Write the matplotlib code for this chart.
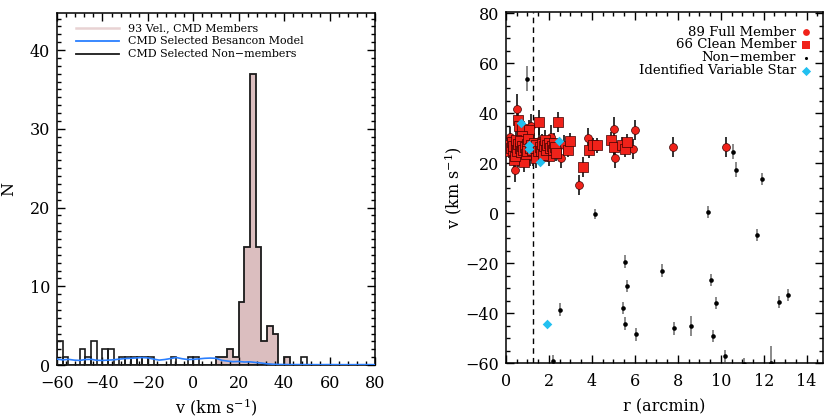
import matplotlib
matplotlib.use("Agg")
import matplotlib.pyplot as plt
from matplotlib.ticker import MultipleLocator
from matplotlib.lines import Line2D
import numpy as np

plt.rcParams['font.family'] = ['DejaVu Serif']
plt.rcParams['mathtext.fontset'] = 'dejavuserif'

# ---------------- Left panel data ----------------
bin_width = 2.5
hist_start = -60.0
nonmem_counts = [3, 1, 0, 0, 2, 1, 3, 0, 2, 2, 0, 1, 1, 1, 1, 1, 1, 0, 0, 0,
                 1, 0, 0, 1, 1, 0, 0, 0, 0, 0, 0, 0, 0, 0, 0, 0, 0, 0, 0, 0,
                 0, 0, 0, 1]
mem_start = 10.0
mem_counts = [1, 1, 2, 1, 8, 15, 37, 15, 3, 5, 4, 0, 1]

besancon_v = [-60, -57.5, -55, -52.5, -50, -47.5, -45, -42.5, -40, -37.5, -35, -32.5,
              -30, -27.5, -25, -22.5, -20, -17.5, -15, -12.5, -10, -7.5, -5, -2.5,
              0, 2.5, 5, 7.5, 10, 12.5, 15, 17.5, 20, 22.5, 25, 27.5, 30, 32.5, 35,
              37.5, 40, 45, 50, 55, 60, 65, 70, 75, 80]
besancon_n = [0.75, 0.65, 0.72, 0.62, 0.58, 0.70, 0.72, 0.60, 0.58, 0.62, 0.66, 0.75,
              0.82, 0.85, 0.90, 0.95, 0.90, 0.75, 0.62, 0.70, 0.82, 0.95, 0.80, 0.70,
              0.72, 0.78, 0.85, 0.88, 0.85, 0.60, 0.50, 0.42, 0.45, 0.38, 0.40, 0.32,
              0.25, 0.15, 0.10, 0.07, 0.06, 0.05, 0.05, 0.04, 0.05, 0.04, 0.04, 0.05, 0.04]

left_labels = ["93 Vel., CMD Members", "CMD Selected Besancon Model", "CMD Selected Non\u2212members"]

# ---------------- Right panel data ----------------
mem_r = [0.50, 0.54, 0.62, 0.76, 1.16, 1.06, 1.54, 0.19, 0.73, 0.37, 0.42, 0.85, 1.27,
         2.02, 2.41, 2.58, 2.70, 2.89, 2.99, 3.41, 3.60, 3.82, 3.88, 4.06, 4.25, 4.87,
         5.01, 5.01, 5.04, 5.07, 5.42, 5.54, 5.65, 5.90, 6.01, 7.79, 10.24,
         0.08, 0.12, 0.15, 0.22, 0.25, 0.28, 0.31, 0.34, 0.40, 0.45, 0.48, 0.52, 0.55,
         0.58, 0.63, 0.66, 0.70, 0.74, 0.78, 0.82, 0.88, 0.92, 0.96, 1.00, 1.04, 1.10,
         1.14, 1.18, 1.22, 1.30, 1.34, 1.38, 1.42, 1.47, 1.52, 1.57, 1.62, 1.66, 1.72,
         1.76, 1.80, 1.85, 1.90, 1.95, 2.00, 2.06, 2.10, 2.15, 2.20, 2.25, 2.30, 2.35]
mem_v = [41.8, 37.2, 34.8, 33.7, 34.8, 33.5, 36.4, 30.5, 30.8, 21.4, 17.4, 20.7, 24.1,
         23.0, 36.7, 22.2, 27.2, 25.4, 29.0, 11.2, 18.5, 30.0, 25.2, 27.3, 27.3, 29.4,
         33.7, 27.3, 26.5, 22.1, 27.4, 25.7, 28.6, 25.8, 33.2, 26.6, 26.6,
         26.5, 25.0, 27.5, 26.0, 24.0, 28.5, 25.5, 27.0, 23.0, 26.5, 29.5, 25.0, 27.8,
         22.5, 26.0, 28.8, 24.5, 27.0, 25.5, 29.0, 26.5, 23.8, 27.8, 25.0, 29.8, 26.2,
         23.0, 27.5, 25.2, 28.0, 26.0, 22.0, 27.2, 24.8, 29.0, 26.5, 25.0, 27.8, 23.5,
         26.8, 29.5, 25.5, 27.5, 24.5, 28.2, 26.0, 30.5, 27.0, 25.2, 28.0, 26.5, 24.0]
mem_err = [6, 4, 4, 4, 5, 4, 5, 4, 3, 4, 5, 4, 5,
           4, 4, 4, 4, 3, 3, 4, 4, 4, 3, 3, 3, 3,
           5, 4, 3, 4, 3, 3, 3, 4, 4, 4, 4,
           3, 3, 4, 3, 4, 3, 3, 4, 3, 3, 4, 3, 3,
           4, 3, 3, 3, 4, 3, 5, 3, 4, 3, 3, 4, 3,
           4, 3, 3, 4, 3, 4, 3, 3, 5, 3, 3, 4, 3,
           3, 4, 3, 3, 4, 3, 3, 5, 3, 3, 4, 3, 3]
mem_clean = [0, 1, 1, 1, 0, 1, 1, 0, 1, 1, 0, 1, 0,
             1, 1, 0, 0, 1, 1, 0, 1, 0, 1, 1, 1, 1,
             0, 0, 1, 0, 1, 1, 1, 0, 0, 0, 0,
             1, 1, 1, 1, 0, 1, 1, 1, 1, 1, 1, 1, 1,
             0, 1, 1, 1, 1, 1, 0, 1, 1, 1, 1, 1, 1,
             0, 1, 1, 1, 1, 1, 1, 1, 0, 1, 1, 1, 1,
             1, 1, 1, 1, 0, 1, 1, 0, 1, 1, 1, 1, 1]

non_r = [0.99, 10.57, 10.71, 11.92, 4.14, 9.42, 11.67, 5.54, 7.28, 9.54, 5.62, 13.11,
         12.71, 9.76, 5.45, 2.50, 5.54, 8.61, 7.82, 6.07, 9.62, 10.18, 2.19, 11.07, 12.32]
non_v = [53.9, 24.6, 17.4, 13.8, -0.5, 0.4, -8.7, -19.4, -23.0, -26.8, -29.1, -32.8,
         -35.5, -35.9, -37.9, -38.6, -44.2, -45.3, -46.1, -48.5, -49.1, -57.2, -59.1,
         -60.4, -60.0]
non_err = [5.0, 3.0, 3.0, 2.5, 2.0, 2.5, 2.5, 2.5, 2.5, 2.5, 2.5, 2.5,
           2.5, 2.5, 2.5, 2.5, 2.5, 4.0, 2.5, 2.5, 2.5, 2.5, 2.5, 2.5, 7.0]

var_r = [0.70, 1.08, 1.08, 1.58, 2.47, 1.89]
var_v = [36.1, 27.4, 25.7, 20.7, 28.8, -44.3]

r_half = 1.27
right_labels = ["89 Full Member", "66 Clean Member", "Non\u2212member", "Identified Variable Star"]

# ---------------- Figure ----------------
fig = plt.figure(figsize=(8.3, 4.17), dpi=100)
axL = fig.add_axes([57 / 830, 1 - 365 / 417, 318 / 830, 352 / 417])
axR = fig.add_axes([506 / 830, 1 - 363 / 417, 317 / 830, 351 / 417])

pink_fill = '#dbbebf'
pink_line = '#e8d2d3'
blue = '#2a7fff'
red = '#f0221a'
cyan = '#22c0f0'
edge_dark = '#1a1a1a'

# Left: histograms
mem_edges = mem_start + bin_width * np.arange(len(mem_counts) + 1)
axL.stairs(mem_counts, mem_edges, fill=True, color=pink_fill, zorder=1)
axL.stairs(mem_counts, mem_edges, color=edge_dark, lw=1.3, baseline=0, zorder=2)

non_left = hist_start + bin_width * np.arange(len(nonmem_counts))
axL.bar(non_left, nonmem_counts, width=bin_width, align='edge', fill=False,
        edgecolor=edge_dark, lw=1.2, zorder=3)
axL.plot(besancon_v, besancon_n, color=blue, lw=1.2, zorder=4)

axL.set_xlim(-60, 80)
axL.set_ylim(0, 44.7)
axL.xaxis.set_major_locator(MultipleLocator(20))
axL.xaxis.set_minor_locator(MultipleLocator(4))
axL.yaxis.set_major_locator(MultipleLocator(10))
axL.yaxis.set_minor_locator(MultipleLocator(1))
axL.set_xlabel(r'v (km s$^{-1}$)', fontsize=11.5, labelpad=3)
axL.set_ylabel('N', fontsize=11.5, labelpad=9)

# Left legend
leg_y = [0.956, 0.920, 0.884]
leg_cols = [pink_line, blue, edge_dark]
leg_lw = [1.8, 1.3, 1.3]
for yy, lab, c, lw in zip(leg_y, left_labels, leg_cols, leg_lw):
    axL.add_line(Line2D([0.060, 0.195], [yy, yy], color=c, lw=lw, transform=axL.transAxes))
    axL.text(0.222, yy, lab, transform=axL.transAxes, fontsize=7.9, va='center', ha='left')

# Right: scatter
mem_r_a = np.array(mem_r)
mem_v_a = np.array(mem_v)
mem_clean_a = np.array(mem_clean, dtype=bool)
axR.errorbar(non_r, non_v, yerr=non_err, fmt='none', ecolor='#6a6a6a', elinewidth=1.1, zorder=2)
axR.scatter(non_r, non_v, s=11, color='black', zorder=3, linewidths=0)
axR.errorbar(mem_r, mem_v, yerr=mem_err, fmt='none', ecolor='#111111', elinewidth=1.2, zorder=4)
axR.scatter(mem_r_a, mem_v_a, s=32, marker='o', color=red, edgecolors='#3a0000', linewidths=0.5, zorder=5)
axR.scatter(mem_r_a[mem_clean_a], mem_v_a[mem_clean_a], s=42, marker='s', color=red,
            edgecolors='#3a0000', linewidths=0.5, zorder=6)
axR.scatter(var_r, var_v, s=24, marker='D', color=cyan, linewidths=0, zorder=7)
axR.axvline(r_half, color='black', ls=(0, (4, 3)), lw=1.0, zorder=1)

axR.set_xlim(0, 14.76)
axR.set_ylim(-60, 80.6)
axR.xaxis.set_major_locator(MultipleLocator(2))
axR.xaxis.set_minor_locator(MultipleLocator(0.5))
axR.yaxis.set_major_locator(MultipleLocator(20))
axR.yaxis.set_minor_locator(MultipleLocator(5))
axR.set_xlabel('r (arcmin)', fontsize=11.5, labelpad=6)
axR.set_ylabel(r'v (km s$^{-1}$)', fontsize=11.5, labelpad=1)

# Right legend
rleg_y = [0.943, 0.907, 0.869, 0.832]
rleg_m = ['o', 's', 'o', 'D']
rleg_c = [red, red, 'black', cyan]
rleg_s = [24, 40, 5, 22]
for yy, lab, m, c, s in zip(rleg_y, right_labels, rleg_m, rleg_c, rleg_s):
    axR.text(0.915, yy, lab, transform=axR.transAxes, fontsize=9.5, ha='right', va='center')
    axR.scatter([0.945], [yy], s=s, marker=m, color=c, transform=axR.transAxes,
                linewidths=0, zorder=8, clip_on=False)

for ax in (axL, axR):
    ax.tick_params(which='both', direction='in', top=True, right=True, labelsize=11.5, width=1.0)
    ax.tick_params(which='major', length=6)
    ax.tick_params(which='minor', length=3)
    ax.tick_params(axis='x', which='major', pad=7)
    ax.tick_params(axis='y', which='major', pad=5)
    for sp in ax.spines.values():
        sp.set_linewidth(1.1)

fig.savefig('out.png', dpi=100)
